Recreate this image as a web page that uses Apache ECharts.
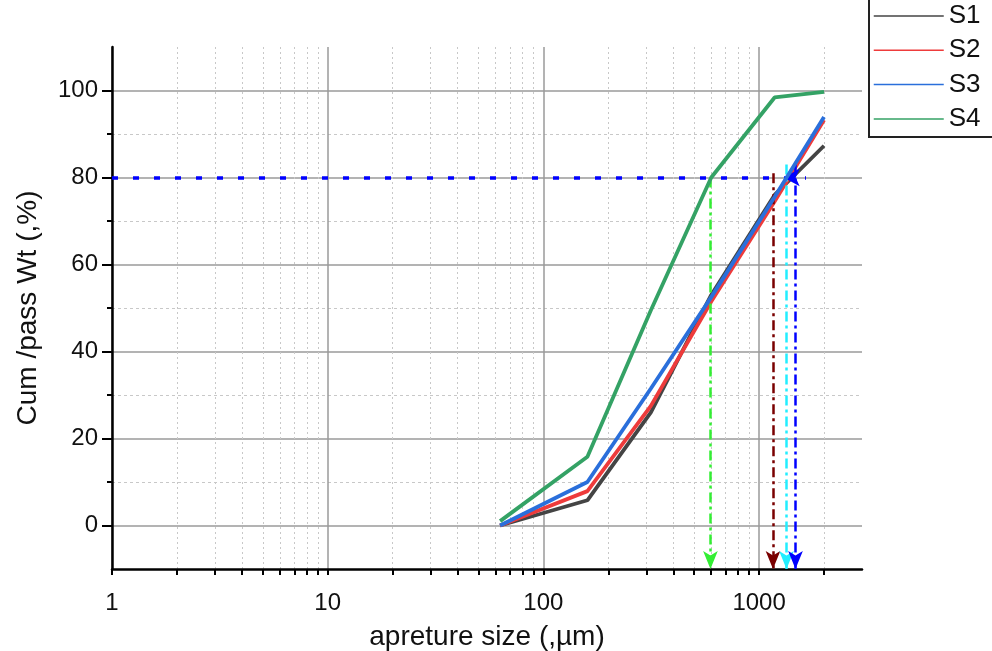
<!DOCTYPE html>
<html>
<head>
<meta charset="utf-8">
<script src="https://cdn.jsdelivr.net/npm/echarts@6/dist/echarts.min.js"></script>
<style>
html,body{margin:0;padding:0;background:#fff;}
#chart{width:992px;height:651px;}
</style>
</head>
<body>
<div id="chart"></div>
<script>
// ---- data ----
const sizes = [63, 160, 315, 600, 1180, 2000];
const s1 = [0, 5.8, 26, 53, 76, 87.3];
const s2 = [0, 7.9, 27.5, 51.5, 74.5, 93.2];
const s3 = [0, 10.0, 31.5, 52.5, 75.5, 93.9];
const s4 = [1.0, 15.8, 49.5, 80, 98.4, 99.7];
const seriesNames = ['S1', 'S2', 'S3', 'S4'];
const d80Sizes = [595, 1160, 1340, 1475];
const d80Tops = [80, 81, 83, 83];
const refLevel = 80;
const refLineEnd = 1650;
const refArrowAt = 1300;
const yMajor = [0, 20, 40, 60, 80, 100];
const yMinor = [10, 30, 50, 70, 90];
const xMajor = [1, 10, 100, 1000];
const xMinor = [];
[1, 10, 100].forEach(d => { for (let k = 2; k <= 9; k++) xMinor.push(k * d); });
xMinor.push(2000);

const seriesColors = ['#444444', '#ee3b3b', '#2a6fdb', '#34a265'];
const arrowColors = ['#33ee33', '#7a0000', '#22eeff', '#0000ff'];
const font = '"Liberation Sans", Arial, sans-serif';

const chart = echarts.init(document.getElementById('chart'));
const values = [s1, s2, s3, s4];

const lineSeries = values.map((v, i) => ({
  name: seriesNames[i],
  type: 'line',
  xAxisIndex: 0, yAxisIndex: 0,
  data: sizes.map((x, j) => [x, v[j]]),
  symbol: 'none',
  z: 3 + i,
  lineStyle: { color: seriesColors[i], width: 3.8 },
  itemStyle: { color: seriesColors[i] }
}));

const arrowSeries = {
  type: 'line',
  data: [],
  xAxisIndex: 0, yAxisIndex: 0,
  z: 10,
  silent: true,
  markPoint: {
    silent: true,
    animation: false,
    label: { show: false },
    data: [{ coord: [refArrowAt, refLevel], symbol: 'arrow', symbolSize: [13, 16], symbolRotate: 90,
             itemStyle: { color: '#0000ff' } }]
  },
  markLine: {
    silent: true,
    animation: false,
    label: { show: false },
    emphasis: { disabled: true },
    data: [
      [{ coord: [1, refLevel], symbol: 'none', lineStyle: { color: '#0000ff', width: 3.5, type: [6, 15] } },
       { coord: [refLineEnd, refLevel], symbol: 'none' }]
    ].concat(d80Sizes.map((x, i) => [
      { coord: [x, d80Tops[i]], symbol: 'none',
        lineStyle: { color: arrowColors[i], width: 2.5, type: [10, 4, 3, 4] } },
      { coord: [x, -10], symbol: 'arrow', symbolSize: [11, 18], itemStyle: { color: arrowColors[i] } }
    ]))
  }
};

chart.setOption({
  animation: false,
  backgroundColor: '#ffffff',
  textStyle: { fontFamily: font },
  grid: { left: 112, right: 130, top: 47, bottom: 82, containLabel: false, outerBoundsMode: 'none' },
  legend: {
    data: seriesNames,
    orient: 'vertical',
    left: 869, top: -18,
    padding: [21, 40, 5, 4],
    itemGap: 8.3,
    itemWidth: 70,
    itemHeight: 14,
    borderColor: '#222',
    borderWidth: 2,
    backgroundColor: '#fff',
    lineStyle: { width: 1.5 },
    itemStyle: { opacity: 0, borderWidth: 0 },
    textStyle: { fontSize: 26, color: '#111', fontFamily: font, lineHeight: 26 }
  },
  xAxis: [
    {
      type: 'log', logBase: 10, min: 1, max: 3000,
      name: 'apreture size (,µm)', nameLocation: 'middle', nameGap: 54,
      nameTextStyle: { fontSize: 28, color: '#111', fontFamily: font },
      axisLine: { onZero: false, lineStyle: { color: '#000', width: 2.5 } },
      axisTick: { show: true, inside: false, length: 6, customValues: xMajor, lineStyle: { color: '#000', width: 2 } },
      axisLabel: { customValues: xMajor, fontSize: 24, color: '#111', margin: 22, fontFamily: font,
                   formatter: v => String(Math.round(v)) },
      splitLine: { show: true, lineStyle: { color: '#9a9a9a', width: 1.5 } }
    },
    {
      type: 'log', logBase: 10, min: 1, max: 3000, position: 'bottom', offset: 0,
      axisLine: { show: false, onZero: false },
      axisTick: { show: true, length: 6, customValues: xMinor, lineStyle: { color: '#000', width: 2 } },
      axisLabel: { show: false },
      splitLine: { show: true, lineStyle: { color: '#c8c8c8', width: 1, type: [2, 3] } }
    }
  ],
  yAxis: [
    {
      type: 'value', min: -10, max: 110, position: 'left',
      name: 'Cum /pass Wt (,%)', nameLocation: 'middle', nameGap: 70,
      nameTextStyle: { fontSize: 28, color: '#111', fontFamily: font },
      axisLine: { show: true, onZero: false, lineStyle: { color: '#000', width: 2.5 } },
      axisTick: { show: true, length: 10, customValues: yMajor, lineStyle: { color: '#000', width: 2 } },
      axisLabel: { customValues: yMajor, fontSize: 24, color: '#111', margin: 14, fontFamily: font },
      splitLine: { show: true, lineStyle: { color: '#9a9a9a', width: 1.5 } }
    },
    {
      type: 'value', min: -10, max: 110, position: 'left', offset: 0,
      axisLine: { show: false, onZero: false },
      axisTick: { show: true, length: 5, customValues: yMinor, lineStyle: { color: '#000', width: 2 } },
      axisLabel: { show: false },
      splitLine: { show: true, lineStyle: { color: '#c8c8c8', width: 1, type: [3, 3] } }
    }
  ],
  series: lineSeries.concat([arrowSeries])
});
</script>
</body>
</html>
